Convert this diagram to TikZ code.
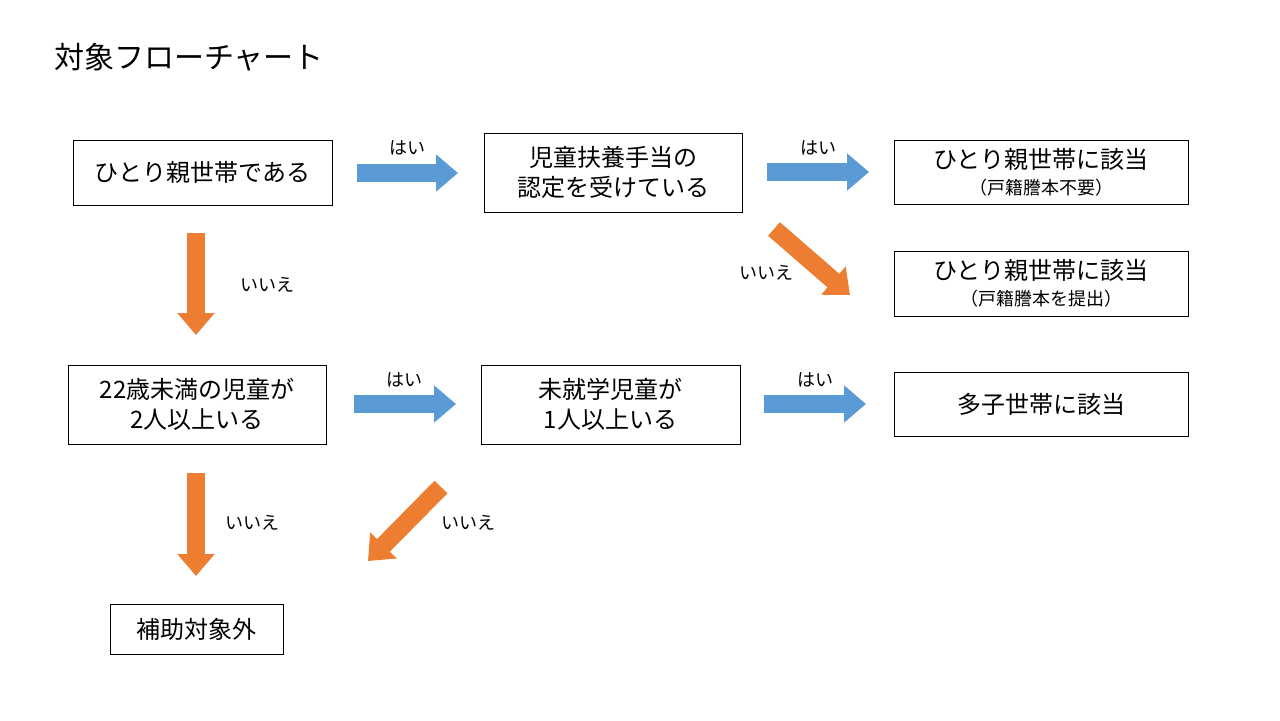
\documentclass[tikz,border=0pt]{standalone}
\usepackage{fontspec}
\setmainfont{Noto Sans CJK JP}
\usetikzlibrary{arrows.meta}
\definecolor{bl}{HTML}{5B9BD5}
\definecolor{og}{HTML}{ED7D31}
\begin{document}
\begin{tikzpicture}[x=0.5pt,y=-0.5pt,
 box/.style={draw=black,line width=0.5pt,fill=white,inner sep=0pt,font=\fontsize{12}{15}\selectfont,align=center},
 lab/.style={font=\fontsize{9}{11}\selectfont},
 barr/.style={line width=9pt,-{Triangle[length=11pt,width=18pt]}},
 yes/.style={barr,draw=bl},
 no/.style={barr,draw=og}]
\useasboundingbox[fill=white] (0,0) rectangle (1280,720);
\node[anchor=west,font=\fontsize{15}{18}\selectfont] (title) at (47,57) {対象フローチャート};
\node[box,minimum width=129.5pt,minimum height=32.5pt] (A) at (202.5,172.5) {ひとり親世帯である};
\node[box,minimum width=129pt,minimum height=39.5pt] (B) at (613,172.5) {児童扶養手当の\\認定を受けている};
\node[box,minimum width=147pt,minimum height=32pt] (C) at (1041,172) {ひとり親世帯に該当\\[-2pt]{\fontsize{9}{10}\selectfont （戸籍謄本不要）}};
\node[box,minimum width=147pt,minimum height=32.5pt] (D) at (1041,283.5) {ひとり親世帯に該当\\[-2pt]{\fontsize{9}{10}\selectfont （戸籍謄本を提出）}};
\node[box,minimum width=129pt,minimum height=39.5pt] (E) at (197,404.5) {22歳未満の児童が\\2人以上いる};
\node[box,minimum width=129.5pt,minimum height=39.5pt] (F) at (610.5,404.5) {未就学児童が\\1人以上いる};
\node[box,minimum width=147pt,minimum height=32pt] (G) at (1041,404) {多子世帯に該当};
\node[box,minimum width=86.5pt,minimum height=25pt] (H) at (196.5,629) {補助対象外};
\coordinate (a1) at (357,173); \coordinate (a2) at (458,173);
\coordinate (b1) at (767,172); \coordinate (b2) at (869,172);
\coordinate (c1) at (354,404); \coordinate (c2) at (456,404);
\coordinate (d1) at (764,404); \coordinate (d2) at (866,404);
\coordinate (e1) at (196,233); \coordinate (e2) at (196,335);
\coordinate (f1) at (196,473); \coordinate (f2) at (196,576);
\coordinate (g1) at (774,229); \coordinate (g2) at (850,295);
\coordinate (h1) at (441,487); \coordinate (h2) at (368,561);
\draw[yes] (a1)--(a2); \draw[yes] (b1)--(b2);
\draw[yes] (c1)--(c2); \draw[yes] (d1)--(d2);
\draw[no] (e1)--(e2); \draw[no] (f1)--(f2);
\draw[no] (g1)--(g2); \draw[no] (h1)--(h2);
\node[lab] (l1) at (407,148) {はい};
\node[lab] (l2) at (818,148) {はい};
\node[lab] (l3) at (404,380) {はい};
\node[lab] (l4) at (815,380) {はい};
\node[lab] (l5) at (267,285) {いいえ};
\node[lab] (l6) at (766,273) {いいえ};
\node[lab] (l7) at (252,523) {いいえ};
\node[lab] (l8) at (468,523) {いいえ};
\end{tikzpicture}
\end{document}
